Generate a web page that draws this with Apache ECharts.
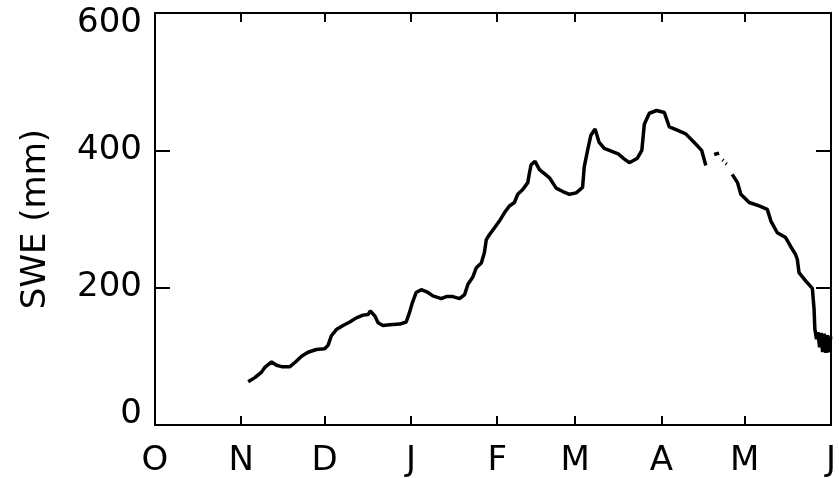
<!DOCTYPE html>
<html>
<head>
<meta charset="utf-8">
<script src="https://cdn.jsdelivr.net/npm/echarts@6/dist/echarts.min.js"></script>
<style>html,body{margin:0;padding:0;background:#fff;}#c{width:839px;height:478px;}</style>
</head>
<body>
<div id="c"></div>
<script>
// Month boundaries (days since 1 Oct) and labels
var monthTicks = [0, 31, 61, 92, 123, 151, 182, 212, 243];
var monthLabels = ['O', 'N', 'D', 'J', 'F', 'M', 'A', 'M', 'J'];
var yTicks = [0, 200, 400, 600];

// Snow water equivalent (mm) vs day since 1 Oct; null = missing data
var days = [33.5,35.9,38.3,39.5,41.9,43.7,45.5,48.5,50.3,52.7,55.0,58.0,61.0,62.2,63.4,65.2,67.6,70.0,72.4,74.8,76.6,77.4,79.0,80.2,81.9,84.4,88.0,90.3,91.5,92.5,93.9,95.7,98.1,99.9,102.9,104.7,107.1,109.5,111.3,112.5,114.2,115.5,117.3,118.4,119.1,120.2,122.0,123.8,125.6,127.4,129.2,130.4,132.2,134.0,134.6,135.2,136.6,138.2,140.0,141.8,144.2,146.6,149.0,151.4,153.7,154.3,155.5,156.7,158.2,159.6,161.5,164.0,166.5,168.5,170.5,173.3,175.0,175.9,177.7,180.3,183.1,184.9,187.3,190.8,194.2,196.5,198.0,
  199.5,201.0,202.8,203.4,204.0,204.3,204.7,205.2,205.5,206.5,
  207.5,209.4,210.6,213.6,217.2,220.1,221.4,223.7,226.7,228.5,230.3,230.9,231.5,233.9,236.3,236.9,
  237.2,237.8,238.3,238.9,239.4,240.0,240.6,241.2,241.8,242.3,242.9];
var swe = [63,69,77,84,92,87,85,85,91,100,106,110,111,116,130,139,145,150,156,160,161,166,159,149,145,146,147,150,164,178,193,197,193,188,184,187,187,184,190,205,215,229,236,251,270,277,287,297,309,319,324,336,343,353,367,379,384,372,366,360,345,340,336,338,346,376,400,422,431,412,403,399,395,388,382,388,400,438,454,458,455,434,430,424,410,400,378,
  null,394,396,null,386,385,null,381,380,null,
  365,353,336,324,319,314,297,280,273,260,248,241,222,210,199,170,
  140,125,135,113,134,106,133,105,131,106,129];

var seriesData = days.map(function (d, i) { return [d, swe[i]]; });

var FONT = 'DejaVu Sans';
var FS = 34;

var chart = echarts.init(document.getElementById('c'), null, {renderer: 'canvas'});
chart.setOption({
  animation: false,
  backgroundColor: '#fff',
  grid: {left: 155, right: 7, top: 13, bottom: 52, containLabel: false},
  xAxis: [{
    type: 'value', position: 'bottom', min: 0, max: 243,
    axisLine: {show: true, onZero: false, lineStyle: {color: '#000', width: 2}},
    axisTick: {show: true, inside: true, length: 9, customValues: monthTicks.slice(1, -1), lineStyle: {color: '#000', width: 2}},
    axisLabel: {
      show: true, margin: 19, customValues: monthTicks,
      color: '#000', fontFamily: FONT, fontSize: FS,
      formatter: function (v) { var i = monthTicks.indexOf(Math.round(v)); return i >= 0 ? monthLabels[i] : ''; }
    },
    splitLine: {show: false}
  }, {
    type: 'value', position: 'top', min: 0, max: 243,
    axisLine: {show: true, onZero: false, lineStyle: {color: '#000', width: 2}},
    axisTick: {show: true, inside: true, length: 9, customValues: monthTicks.slice(1, -1), lineStyle: {color: '#000', width: 2}},
    axisLabel: {show: false},
    splitLine: {show: false}
  }],
  yAxis: [{
    type: 'value', position: 'left', min: 0, max: 600, interval: 200,
    name: 'SWE (mm)', nameLocation: 'middle', nameGap: 102, nameRotate: 90,
    nameTextStyle: {color: '#000', fontFamily: FONT, fontSize: FS},
    axisLine: {show: true, onZero: false, lineStyle: {color: '#000', width: 2}},
    axisTick: {show: true, inside: true, length: 15, lineStyle: {color: '#000', width: 2}},
    axisLabel: {
      show: true, margin: 13, color: '#000', fontFamily: FONT, fontSize: FS,
      formatter: function (v) {
        if (v === 600) return '{t|600}';
        if (v === 0) return '{b|0}';
        return String(v);
      },
      rich: {
        t: {fontFamily: FONT, fontSize: FS, color: '#000', padding: [20, 0, 0, 0]},
        b: {fontFamily: FONT, fontSize: FS, color: '#000', padding: [0, 0, 22, 0]}
      }
    },
    splitLine: {show: false}
  }, {
    type: 'value', position: 'right', min: 0, max: 600, interval: 200,
    axisLine: {show: true, onZero: false, lineStyle: {color: '#000', width: 2}},
    axisTick: {show: true, inside: true, length: 15, lineStyle: {color: '#000', width: 2}},
    axisLabel: {show: false},
    splitLine: {show: false}
  }],
  series: [{
    type: 'line', xAxisIndex: 0, yAxisIndex: 0,
    data: seriesData, symbol: 'none', showSymbol: false, connectNulls: false,
    lineStyle: {color: '#000', width: 3.5}, itemStyle: {color: '#000'}
  }]
});
</script>
</body>
</html>
